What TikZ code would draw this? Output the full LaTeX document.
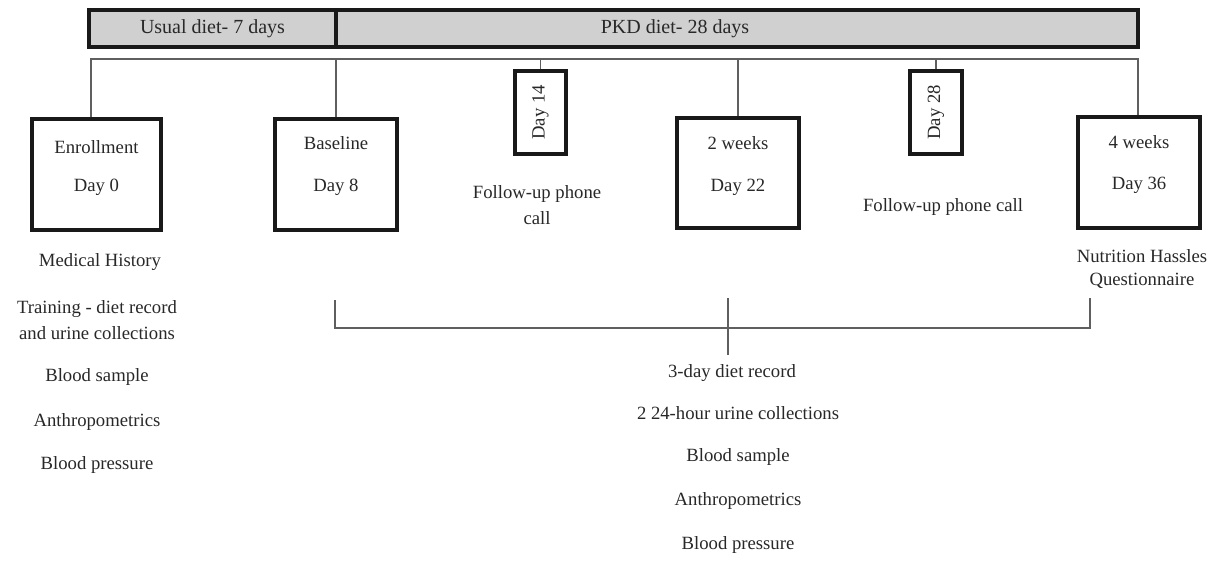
\documentclass[tikz,border=0pt]{standalone}
\usepackage{fontspec}
\setmainfont{Liberation Serif}
\usepackage{tikz}
\usepackage{xcolor}
\definecolor{barfill}{RGB}{208,208,208}
\definecolor{inkgray}{RGB}{40,40,40}
\definecolor{linegray}{RGB}{95,95,95}

\begin{document}
\begin{tikzpicture}[x=1pt, y=-1pt,
    box/.style={draw=black!90, line width=3.2pt, inner sep=0pt},
    bar/.style={draw=black!90, line width=3.2pt, fill=barfill, inner sep=0pt, minimum height=37},
    txt/.style={text=inkgray, font=\fontsize{18.7}{26}\selectfont, align=center, inner sep=0pt},
    tl/.style={draw=linegray, line width=1.6pt}
]
    \useasboundingbox (0,0) rectangle (1230,562);

    % diet periods
    \node[bar, minimum width=247] (usual) at (212.5,28.5) {};
    \node[bar, minimum width=802] (pkd) at (737,28.5) {};
    \node[txt, font=\fontsize{20}{24}\selectfont] (usualtxt) at (usual.center) {Usual diet- 7 days};
    \node[txt, font=\fontsize{20}{24}\selectfont] (pkdtxt) at (675,28.5) {PKD diet- 28 days};

    % visits
    \node[box, minimum width=129, minimum height=111] (enroll) at (96.5,174.5) {};
    \node[box, minimum width=122, minimum height=111] (base) at (336,174.5) {};
    \node[box, minimum width=51, minimum height=83] (d14) at (540.5,112.5) {};
    \node[box, minimum width=122, minimum height=110] (wk2) at (738,173) {};
    \node[box, minimum width=52, minimum height=83] (d28) at (936,112.5) {};
    \node[box, minimum width=122, minimum height=111] (wk4) at (1139,172.5) {};

    \node[txt] (enrolltop) at (96.5,147) {Enrollment};
    \node[txt] (enrollday) at (96.5,187) {Day 0};
    \node[txt] (basetop) at (336,143) {Baseline};
    \node[txt] (baseday) at (336,187) {Day 8};
    \node[txt, rotate=90] (d14txt) at (d14.center) {Day 14};
    \node[txt] (wk2top) at (738,143) {2 weeks};
    \node[txt] (wk2day) at (738,187) {Day 22};
    \node[txt, rotate=90] (d28txt) at (d28.center) {Day 28};
    \node[txt] (wk4top) at (1139,142) {4 weeks};
    \node[txt] (wk4day) at (1139,185) {Day 36};

    % timeline
    \coordinate (t0) at (91,59);
    \coordinate (t5) at (1138,59);
    \draw[tl] (t0 |- enroll.north) -- (t0) -- (t5) -- (t5 |- wk4.north);
    \foreach \v in {base, d14, wk2, d28}
        \draw[tl] (\v.north) -- (\v.north |- t0);

    % what happens at each visit
    \node[txt] (call1) at (537,205) {Follow-up phone\\call};
    \node[txt] (call2) at (943,207) {Follow-up phone call};
    \node[txt, text depth=0pt] (nhq) at (1142,268) {Nutrition Hassles\\[-3pt]Questionnaire};

    \node[txt] (hist) at (100,262) {Medical History};
    \node[txt] (train) at (97,320) {Training - diet record\\and urine collections};
    \node[txt] (blood1) at (97,377) {Blood sample};
    \node[txt] (anthro1) at (97,422) {Anthropometrics};
    \node[txt] (bp1) at (97,465) {Blood pressure};

    % bracket for the three study visits
    \coordinate (bl) at (335,300);
    \coordinate (br) at (1090,298);
    \coordinate (bmt) at (728,298);
    \coordinate (bmb) at (728,355);
    \draw[tl] (bl) |- (br |- 0,328) -- (br);
    \draw[tl] (bmt) -- (bmb);

    \node[txt] (diet) at (732,373) {3-day diet record};
    \node[txt] (urine) at (738,413) {2 24-hour urine collections};
    \node[txt] (blood2) at (738,457) {Blood sample};
    \node[txt] (anthro2) at (738,501) {Anthropometrics};
    \node[txt] (bp2) at (738,545) {Blood pressure};
\end{tikzpicture}
\end{document}
